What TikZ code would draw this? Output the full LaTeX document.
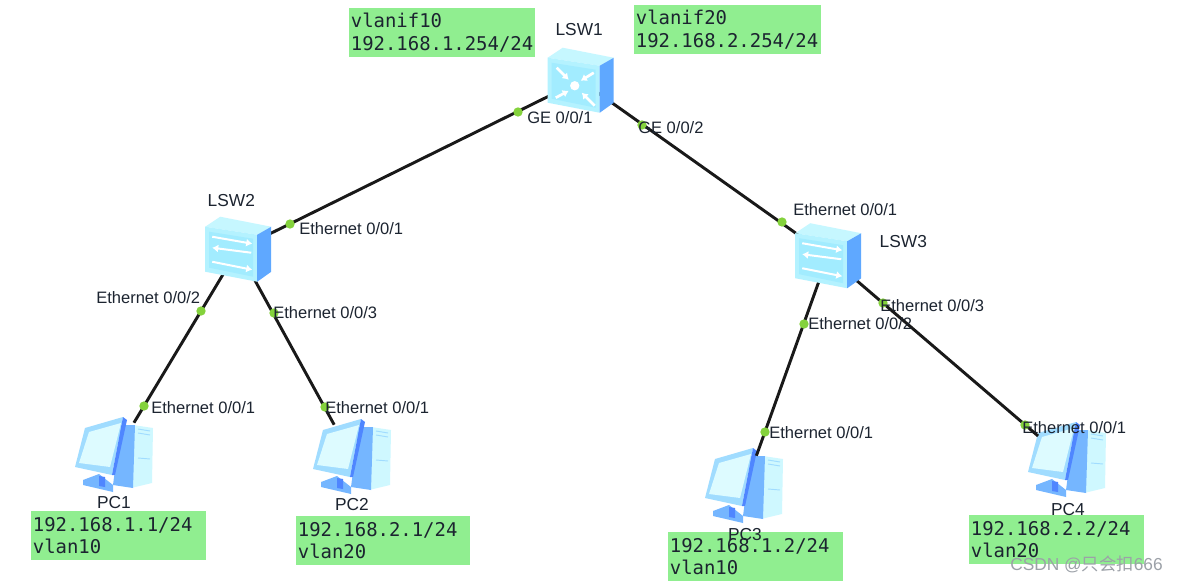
\documentclass[tikz,border=0pt]{standalone}
\usepackage{fontspec}
\setmainfont{Liberation Sans}
\newfontfamily\monofont{DejaVu Sans Mono}
\newfontfamily\cjkfont{Noto Sans CJK SC}
\usetikzlibrary{arrows.meta,positioning}
\definecolor{ipgreen}{HTML}{90EE90}
\definecolor{portgreen}{HTML}{84D23C}
\definecolor{ink}{HTML}{1C2430}
\definecolor{faceout}{HTML}{B4F2FF}
\definecolor{facein}{HTML}{A2ECFF}
\definecolor{topface}{HTML}{C6F7FF}
\definecolor{sideface}{HTML}{5FA8FF}
\definecolor{screenblue}{HTML}{A0DCFF}
\definecolor{screenlight}{HTML}{DDFBFF}
\definecolor{seam}{HTML}{4F86FF}
\definecolor{towerlight}{HTML}{CFF8FF}
\definecolor{towerblue}{HTML}{75B6FF}
\definecolor{mark}{HTML}{9CA1A8}
\tikzset{
  every node/.style={text=ink},
  device/.style={inner sep=0pt,minimum width=48.75pt,minimum height=48.75pt},
  pcbox/.style={inner sep=0pt,minimum width=40pt,minimum height=#1},
  link/.style={line width=2.2pt,draw=black!90},
  portdot/.style={circle,fill=portgreen,inner sep=0pt,minimum size=7pt},
  portlabel/.style={anchor=west,inner sep=0pt,font=\fontsize{12.4}{15}\selectfont},
  devlabel/.style={inner sep=0pt,font=\fontsize{13}{15}\selectfont},
  ipbox/.style={anchor=north west,fill=ipgreen,align=left,inner xsep=1.2pt,inner ysep=0pt,
    text width=#1,minimum height=36.75pt,font=\monofont\fontsize{14.2}{18.75}\selectfont},
  flow/.style={-{Latex[length=4.5pt,width=6pt]},draw=white,line width=1.5pt},
  coreflow/.style={flow,line width=2pt},
  switchbody/.pic={
    \fill[topface] (0,10) -- (15,0) -- (66,10) -- (52,18) -- cycle;
    \fill[faceout] (0,10) -- (52,18) -- (52,65) -- (0,55) -- cycle;
    \fill[facein] (4,15) -- (48,22) -- (48,60) -- (4,51) -- cycle;
    \fill[sideface] (52,18) -- (66,10) -- (66,55) -- (52,65) -- cycle;
  },
  corepic/.pic={
    \pic {switchbody};
    \draw[coreflow] (9,20) -- (21,32);
    \draw[coreflow] (46,25) -- (33,33);
    \draw[coreflow] (8,50) -- (21,43);
    \draw[coreflow] (47,58) -- (34,45);
    \fill[white] (27,38) circle (3.5pt);
  },
  accesspic/.pic={
    \pic {switchbody};
    \draw[flow] (7,20) -- (47,27);
    \draw[flow] (46,36) -- (7,31);
    \draw[flow] (7,45) -- (47,53);
  },
  pcicon/.pic={
    \fill[towerlight] (58,8) -- (78,11) -- (77,66) -- (56,71) -- cycle;
    \fill[towerblue] (46,8) -- (60,8) -- (58,71) -- (38,68) -- cycle;
    \draw[screenblue,line width=.7pt] (63,12) -- (75,14) (63,16) -- (75,18) (63,41) -- (75,42);
    \fill[towerblue] (8,63) -- (24,57) -- (38,68) -- (38,75) -- (8,68) -- cycle;
    \fill[seam] (24,59) -- (30,60) -- (30,70) -- (24,69) -- cycle;
    \fill[screenblue] (10,11) -- (48,0) -- (37,58) -- (0,50) -- cycle;
    \fill[screenlight] (14,15) -- (46,6) -- (35,50) -- (4,46) -- cycle;
    \fill[seam] (48,0) -- (52,3) -- (40,58) -- (37,58) -- cycle;
  },
}

\begin{document}
\begin{tikzpicture}[x=0.75pt,y=-0.75pt]

\useasboundingbox[fill=white] (0,0) rectangle (1177,581);

\node[device] (lsw1) at (580.5,80.5) {};
\node[device] (lsw2) at (238,249.5) {};
\node[device] (lsw3) at (828,256) {};
\node[pcbox=40.5pt] (pc1) at (117.6,450) {};
\node[pcbox=37.5pt] (pc2) at (348,450) {};
\node[pcbox=36pt] (pc3) at (747.7,480) {};
\node[pcbox=48pt] (pc4) at (1065,459) {};

\foreach \px/\py in {75/417,313/419,705/448,1028/422}
  \pic at (\px,\py) {pcicon};

\draw[link] (lsw1.center) -- (lsw2.center);
\draw[link] (lsw1.center) -- (lsw3.center);
\draw[link] (lsw2.center) -- (pc1);
\draw[link] (lsw2.center) -- (pc2);
\draw[link] (lsw3.center) -- (pc3);
\draw[link] (lsw3.center) -- (pc4);

\pic at (lsw1.north west) {corepic};
\pic at (lsw2.north west) {accesspic};
\pic at (lsw3.north west) {accesspic};

\node[portdot] (d1) at (518,112) {};
\node[portdot] (d2) at (642,125) {};
\node[portdot] (d3) at (290,224) {};
\node[portdot] (d4) at (782,222) {};
\node[portdot] (d5) at (201,311) {};
\node[portdot] (d6) at (274,313) {};
\node[portdot] (d7) at (144,406) {};
\node[portdot] (d8) at (325,407) {};
\node[portdot] (d9) at (804,324) {};
\node[portdot] (d10) at (883,303) {};
\node[portdot] (d11) at (765,432) {};
\node[portdot] (d12) at (1025,425) {};

\node[portlabel] (p1) at (527,118) {GE 0/0/1};
\node[portlabel] (p2) at (638,128) {GE 0/0/2};
\node[portlabel] (p3) at (299,229) {Ethernet 0/0/1};
\node[portlabel] (p4) at (793,210) {Ethernet 0/0/1};
\node[portlabel] (p5) at (96,298) {Ethernet 0/0/2};
\node[portlabel] (p6) at (273,313) {Ethernet 0/0/3};
\node[portlabel] (p7) at (151,408) {Ethernet 0/0/1};
\node[portlabel] (p8) at (325,408) {Ethernet 0/0/1};
\node[portlabel] (p9) at (808,324) {Ethernet 0/0/2};
\node[portlabel] (p10) at (880,306) {Ethernet 0/0/3};
\node[portlabel] (p11) at (769,433) {Ethernet 0/0/1};
\node[portlabel] (p12) at (1022,428) {Ethernet 0/0/1};

\node[ipbox=137pt] (if10) at (349,8) {\vspace{-2pt}vlanif10\\192.168.1.254/24};
\node[ipbox=138pt] (if20) at (634,5) {\vspace{-2pt}vlanif20\\192.168.2.254/24};
\node[ipbox=129pt] (ip1) at (31,511) {\vspace{-2pt}192.168.1.1/24\\vlan10};
\node[ipbox=128pt] (ip2) at (296,516) {\vspace{-2pt}192.168.2.1/24\\vlan20};
\node[ipbox=129pt] (ip3) at (668,532) {\vspace{-2pt}192.168.1.2/24\\vlan10};
\node[ipbox=129pt] (ip4) at (969,515) {\vspace{-2pt}192.168.2.2/24\\vlan20};

\node[devlabel,above=9pt of lsw1,xshift=-1pt] (name1) {LSW1};
\node[devlabel,above=7.5pt of lsw2,xshift=-5pt] (name2) {LSW2};
\node[devlabel,right=14pt of lsw3,yshift=11pt] (name3) {LSW3};
\node[devlabel] (name4) at (114,503) {PC1};
\node[devlabel] (name5) at (352,505) {PC2};
\node[devlabel] (name6) at (745,535) {PC3};
\node[devlabel] (name7) at (1068,510) {PC4};

\node[text=mark,inner sep=0pt,anchor=east,font=\fontsize{13}{14}\selectfont] (mark) at (1163,564) {CSDN @{\cjkfont 只会扣}666};

\end{tikzpicture}
\end{document}
